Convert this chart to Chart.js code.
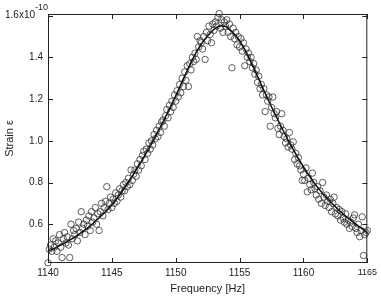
<!DOCTYPE html>
<html>
<head>
<meta charset="utf-8">
<script src="https://cdn.jsdelivr.net/npm/chart.js@4.4.1/dist/chart.umd.min.js"></script>
<style>
html, body { margin: 0; padding: 0; background: #fff; }
canvas { display: block; }
</style>
</head>
<body>
<canvas id="chart" width="381" height="300"></canvas>
<script>
// measured points, strain in units of 1e-10
const freq = [
  1140.0,1140.1,1140.2,1140.3,1140.4,1140.5,1140.6,1140.7,1140.8,1140.9,
  1141.0,1141.1,1141.2,1141.3,1141.4,1141.5,1141.6,1141.7,1141.8,1141.9,
  1142.0,1142.1,1142.2,1142.3,1142.4,1142.5,1142.6,1142.7,1142.8,1142.9,
  1143.0,1143.1,1143.2,1143.3,1143.4,1143.5,1143.6,1143.7,1143.8,1143.9,
  1144.0,1144.1,1144.2,1144.3,1144.4,1144.5,1144.6,1144.7,1144.8,1144.9,
  1145.0,1145.1,1145.2,1145.3,1145.4,1145.5,1145.6,1145.7,1145.8,1145.9,
  1146.0,1146.1,1146.2,1146.3,1146.4,1146.5,1146.6,1146.7,1146.8,1146.9,
  1147.0,1147.1,1147.2,1147.3,1147.4,1147.5,1147.6,1147.7,1147.8,1147.9,
  1148.0,1148.1,1148.2,1148.3,1148.4,1148.5,1148.6,1148.7,1148.8,1148.9,
  1149.0,1149.1,1149.2,1149.3,1149.4,1149.5,1149.6,1149.7,1149.8,1149.9,
  1150.0,1150.1,1150.2,1150.3,1150.4,1150.5,1150.6,1150.7,1150.8,1150.9,
  1151.0,1151.1,1151.2,1151.3,1151.4,1151.5,1151.6,1151.7,1151.8,1151.9,
  1152.0,1152.1,1152.2,1152.3,1152.4,1152.5,1152.6,1152.7,1152.8,1152.9,
  1153.0,1153.1,1153.2,1153.3,1153.4,1153.5,1153.6,1153.7,1153.8,1153.9,
  1154.0,1154.1,1154.2,1154.3,1154.4,1154.5,1154.6,1154.7,1154.8,1154.9,
  1155.0,1155.1,1155.2,1155.3,1155.4,1155.5,1155.6,1155.7,1155.8,1155.9,
  1156.0,1156.1,1156.2,1156.3,1156.4,1156.5,1156.6,1156.7,1156.8,1156.9,
  1157.0,1157.1,1157.2,1157.3,1157.4,1157.5,1157.6,1157.7,1157.8,1157.9,
  1158.0,1158.1,1158.2,1158.3,1158.4,1158.5,1158.6,1158.7,1158.8,1158.9,
  1159.0,1159.1,1159.2,1159.3,1159.4,1159.5,1159.6,1159.7,1159.8,1159.9,
  1160.0,1160.1,1160.2,1160.3,1160.4,1160.5,1160.6,1160.7,1160.8,1160.9,
  1161.0,1161.1,1161.2,1161.3,1161.4,1161.5,1161.6,1161.7,1161.8,1161.9,
  1162.0,1162.1,1162.2,1162.3,1162.4,1162.5,1162.6,1162.7,1162.8,1162.9,
  1163.0,1163.1,1163.2,1163.3,1163.4,1163.5,1163.6,1163.7,1163.8,1163.9,
  1164.0,1164.1,1164.2,1164.3,1164.4,1164.5,1164.6,1164.7,1164.8,1164.9,
  1165.0
];
const strain = [
  0.415,0.48,0.50,0.47,0.53,0.49,0.52,0.47,0.51,0.55,
  0.49,0.44,0.53,0.56,0.51,0.54,0.50,0.44,0.60,0.53,
  0.57,0.55,0.58,0.52,0.61,0.56,0.66,0.58,0.60,0.55,
  0.62,0.59,0.64,0.57,0.66,0.61,0.63,0.68,0.60,0.65,
  0.57,0.66,0.70,0.64,0.68,0.71,0.78,0.67,0.70,0.73,
  0.68,0.72,0.70,0.75,0.71,0.74,0.77,0.73,0.76,0.79,
  0.76,0.80,0.78,0.82,0.79,0.86,0.81,0.84,0.86,0.83,
  0.89,0.86,0.91,0.88,0.93,0.95,0.91,0.96,0.94,0.99,
  0.96,1.00,0.98,1.03,1.01,1.05,1.02,1.07,1.04,1.09,
  1.10,1.07,1.12,1.15,1.11,1.17,1.14,1.19,1.16,1.22,
  1.19,1.24,1.21,1.27,1.23,1.30,1.26,1.33,1.29,1.36,
  1.26,1.37,1.34,1.40,1.38,1.42,1.39,1.50,1.45,1.48,
  1.47,1.44,1.50,1.39,1.52,1.48,1.55,1.51,1.47,1.56,
  1.53,1.57,1.55,1.59,1.61,1.54,1.58,1.52,1.57,1.55,
  1.58,1.52,1.56,1.50,1.35,1.54,1.49,1.52,1.46,1.50,
  1.45,1.49,1.43,1.47,1.36,1.44,1.40,1.42,1.38,1.40,
  1.35,1.37,1.32,1.34,1.28,1.31,1.25,1.27,1.22,1.25,
  1.14,1.22,1.19,1.21,1.07,1.16,1.21,1.13,1.11,1.14,
  1.06,1.03,1.07,1.13,1.05,1.02,0.99,1.01,0.97,1.04,
  0.98,0.96,0.995,0.91,0.94,0.89,0.92,0.88,0.86,0.81,
  0.84,0.81,0.87,0.755,0.82,0.79,0.765,0.845,0.80,0.77,
  0.74,0.78,0.72,0.76,0.70,0.80,0.73,0.69,0.74,0.71,
  0.68,0.72,0.66,0.70,0.73,0.65,0.68,0.64,0.67,0.62,
  0.66,0.63,0.61,0.65,0.60,0.62,0.58,0.61,0.59,0.63,
  0.645,0.58,0.56,0.60,0.54,0.57,0.635,0.45,0.55,0.56,
  0.57
];

// fitted curve
const fitFreq = [1140,1141,1142,1143,1144,1145,1146,1147,1148,1149,1150,1151,1152,1153,1153.5,
  1154,1155,1156,1157,1158,1159,1160,1161,1162,1163,1164,1165];
const fitStrain = [0.470,0.500,0.535,0.578,0.630,0.692,0.775,0.870,0.975,1.090,1.215,1.350,1.465,1.535,1.550,
  1.545,1.480,1.363,1.228,1.100,0.980,0.875,0.785,0.715,0.655,0.605,0.560];

const xTicks = [1140, 1145, 1150, 1155, 1160, 1165];
const yTicks = [0.6, 0.8, 1.0, 1.2, 1.4, 1.6];

const FONT = '"Liberation Sans", Arial, Helvetica, sans-serif';
const INK = '#222';

// box, inward ticks on all four sides and the exponent label
const frame = {
  id: 'frame',
  afterDraw(chart) {
    const {ctx, chartArea: a, scales: {x, y}} = chart;
    ctx.save();
    ctx.strokeStyle = INK;
    ctx.lineWidth = 1;
    ctx.strokeRect(a.left + 0.5, a.top + 0.5, a.right - a.left - 1, a.bottom - a.top - 1);
    ctx.beginPath();
    xTicks.forEach(v => {
      const px = Math.round(x.getPixelForValue(v)) + 0.5;
      ctx.moveTo(px, a.bottom); ctx.lineTo(px, a.bottom - 5);
      ctx.moveTo(px, a.top); ctx.lineTo(px, a.top + 5);
    });
    yTicks.forEach(v => {
      const py = Math.round(y.getPixelForValue(v)) + 0.5;
      ctx.moveTo(a.left, py); ctx.lineTo(a.left + 5, py);
      ctx.moveTo(a.right, py); ctx.lineTo(a.right - 5, py);
    });
    ctx.stroke();

    const py = y.getPixelForValue(1.6);
    ctx.fillStyle = INK;
    ctx.font = '10px ' + FONT;
    ctx.textAlign = 'right';
    ctx.textBaseline = 'middle';
    ctx.fillText('1.6x10', 35, py);
    ctx.textAlign = 'left';
    ctx.font = '9px ' + FONT;
    ctx.fillText('-10', 35, py - 8);
    ctx.restore();
  }
};

const points = freq.map((f, i) => ({x: f, y: strain[i]}));
const fit = fitFreq.map((f, i) => ({x: f, y: fitStrain[i]}));

new Chart(document.getElementById('chart'), {
  type: 'scatter',
  data: {
    datasets: [
      {
        data: fit,
        showLine: true,
        borderColor: '#111',
        borderWidth: 1.5,
        pointRadius: 0,
        tension: 0.4,
        order: 0,
        clip: false
      },
      {
        data: points,
        pointStyle: 'circle',
        pointRadius: 3.2,
        borderWidth: 0.8,
        borderColor: '#333',
        backgroundColor: 'rgba(0,0,0,0)',
        order: 1,
        clip: false
      }
    ]
  },
  options: {
    responsive: false,
    animation: false,
    devicePixelRatio: 1,
    layout: {padding: {top: 14, right: 11, left: 0, bottom: 0}},
    plugins: {legend: {display: false}, tooltip: {enabled: false}},
    scales: {
      x: {
        type: 'linear',
        min: 1140,
        max: 1165,
        afterBuildTicks: s => { s.ticks = xTicks.map(v => ({value: v})); },
        afterFit: s => { s.height = 37; },
        grid: {display: false, drawTicks: false},
        border: {display: false},
        ticks: {
          color: INK,
          padding: 4,
          maxRotation: 0,
          callback: v => String(v),
          font: c => ({family: FONT, size: c.tick && c.tick.value === 1165 ? 9 : 10})
        },
        title: {
          display: true,
          text: 'Frequency [Hz]',
          color: INK,
          font: {family: FONT, size: 11},
          padding: {top: 0, bottom: 4}
        }
      },
      y: {
        type: 'linear',
        min: 0.414,
        max: 1.608,
        afterBuildTicks: s => { s.ticks = yTicks.map(v => ({value: v})); },
        afterFit: s => { s.width = 48; },
        grid: {display: false, drawTicks: false},
        border: {display: false},
        ticks: {
          color: INK,
          padding: 5,
          font: {family: FONT, size: 10},
          callback: v => v === 1.6 ? '' : v.toFixed(1)
        },
        title: {
          display: true,
          text: 'Strain ε',
          color: INK,
          font: {family: FONT, size: 11},
          padding: {top: 3, bottom: 0}
        }
      }
    }
  },
  plugins: [frame]
});
</script>
</body>
</html>
